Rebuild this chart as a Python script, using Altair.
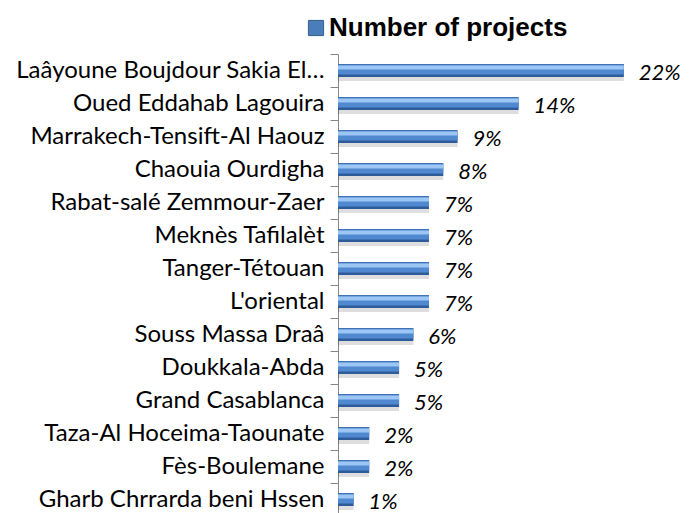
import altair as alt
import pandas as pd

regions = [
    "Laâyoune Boujdour Sakia El…",
    "Oued Eddahab Lagouira",
    "Marrakech-Tensift-Al Haouz",
    "Chaouia Ourdigha",
    "Rabat-salé Zemmour-Zaer",
    "Meknès Tafilalèt",
    "Tanger-Tétouan",
    "L'oriental",
    "Souss Massa Draâ",
    "Doukkala-Abda",
    "Grand Casablanca",
    "Taza-Al Hoceima-Taounate",
    "Fès-Boulemane",
    "Gharb Chrrarda beni Hssen",
]
shares = [22.0, 13.9, 9.2, 8.1, 7.0, 7.0, 7.0, 7.0, 5.8, 4.7, 4.7, 2.4, 2.4, 1.2]
share_labels = ["22%", "14%", "9%", "8%", "7%", "7%", "7%", "7%", "6%", "5%", "5%", "2%", "2%", "1%"]
series_name = "Number of projects"

df = pd.DataFrame({
    "region": regions,
    "share": shares,
    "label": share_labels,
    "series": [series_name] * len(regions),
})

y_enc = alt.Y(
    "region:N",
    sort=None,
    scale=alt.Scale(paddingInner=0, paddingOuter=0),
    axis=alt.Axis(
        title=None,
        labelFont="Lato",
        labelFontSize=24,
        labelColor="#000000",
        labelPadding=6,
        labelLimit=500,
        tickSize=8,
        tickColor="#868686",
        domainColor="#868686",
        tickBand="extent",
    ),
)
x_scale = alt.Scale(domain=[0, 26.4], nice=False, zero=True)
x_enc = alt.X("share:Q", scale=x_scale, axis=None)

base = alt.Chart(df)

shadow = base.mark_bar(size=13, color="#000000", opacity=0.13, yOffset=4).encode(x=x_enc, y=y_enc)
body = base.mark_bar(size=13, color="#2E5C9A").encode(x=x_enc, y=y_enc)
mid = base.mark_bar(size=10, color="#5089D0", yOffset=-1).encode(x=x_enc, y=y_enc)
light = base.mark_bar(size=4, color="#9CC6F4", yOffset=-3).encode(x=x_enc, y=y_enc)

legend_layer = base.mark_bar(size=0).encode(
    x=alt.X("zero:Q", scale=x_scale, axis=None),
    y=y_enc,
    color=alt.Color(
        "series:N",
        scale=alt.Scale(range=["#4A7EBB"]),
        legend=alt.Legend(
            title=None,
            orient="none",
            legendX=-35,
            legendY=-39,
            symbolType="square",
            symbolSize=230,
            symbolStrokeColor="#385D8A",
            symbolStrokeWidth=1,
            symbolOpacity=1,
            labelFont="Liberation Sans",
            labelFontWeight="bold",
            labelFontSize=26,
            labelColor="#000000",
            labelOffset=0,
            labelLimit=400,
            padding=0,
        ),
    ),
).transform_calculate(zero="0")

labels = base.mark_text(
    align="left",
    baseline="middle",
    dx=15,
    dy=2,
    font="Lato",
    fontStyle="italic",
    fontSize=22,
    color="#000000",
).encode(x=x_enc, y=y_enc, text="label:N")

chart = (
    alt.layer(shadow, body, mid, light, legend_layer, labels)
    .properties(
        width=343,
        height=462,
        autosize=alt.AutoSizeParams(type="none"),
        padding={"left": 330, "top": 46, "right": 0, "bottom": 0},
        background="#ffffff",
    )
    .configure_view(stroke=None)
)

chart.save("out.html", embed_options={"renderer": "svg", "actions": False})
